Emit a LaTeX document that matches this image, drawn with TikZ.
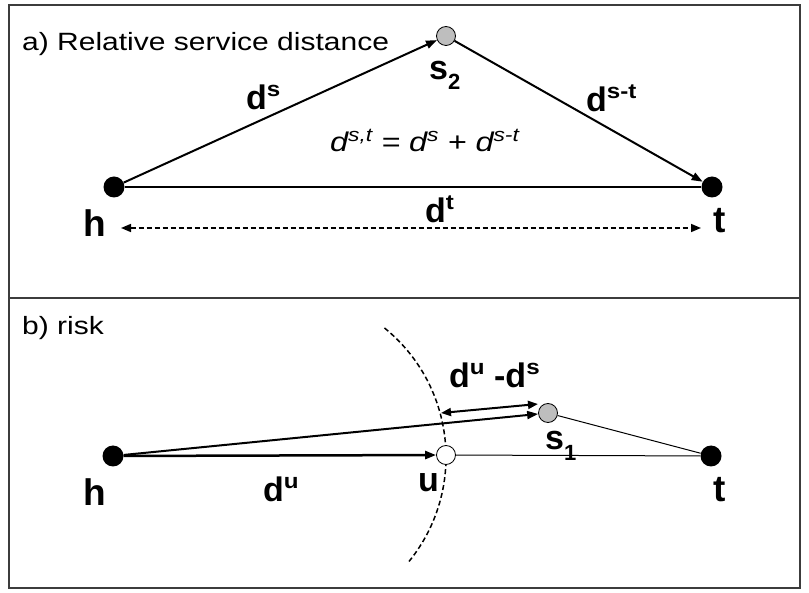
\documentclass[tikz,border=0pt]{standalone}
\usepackage{fontspec}
\usepackage{graphicx}
\setmainfont{Liberation Sans}
\usetikzlibrary{arrows.meta}
\definecolor{sgray}{RGB}{190,190,190}
\definecolor{framec}{RGB}{60,60,60}
\newcommand{\sups}[1]{\raisebox{13pt}{\fontsize{21}{21}\selectfont\scalebox{1.15}[1]{#1}}}
\newcommand{\subs}[1]{\raisebox{-10pt}{\fontsize{22}{22}\selectfont #1}}
\newcommand{\isup}[1]{\raisebox{10pt}{\fontsize{19}{19}\selectfont #1}}
\newcommand{\wide}[1]{\scalebox{1.2}[1]{#1}}
\begin{document}
\begin{tikzpicture}[x=1pt,y=-1pt,
  blackdot/.style={circle,fill=black,inner sep=0pt,minimum size=21pt},
  graydot/.style={circle,draw=black,line width=0.8pt,fill=sgray,inner sep=0pt,minimum size=19pt},
  whitedot/.style={circle,draw=black,line width=0.8pt,fill=white,inner sep=0pt,minimum size=19pt},
  tip/.style={-{Triangle[length=11pt,width=8pt]}},
  lbl/.style={font=\fontsize{34}{38}\selectfont\bfseries,inner sep=0pt,anchor=base west},
  big/.style={font=\fontsize{37}{40}\selectfont\bfseries,inner sep=0pt,anchor=base west},
  ttl/.style={font=\fontsize{25}{30}\selectfont,inner sep=0pt,anchor=base west},
  frm/.style={draw=framec,line width=1.5pt}
]
\useasboundingbox (0,0) rectangle (809,593);
% frame
\draw[frm] (9,5) rectangle (800,588);
\draw[frm] (9,298) -- (800,298);

% ---------- panel a ----------
\node[ttl] (ta) at (22,51) {\wide{a) Relative service distance}};
\node[blackdot] (h1) at (114,187) {};
\node[blackdot] (t1) at (712,187) {};
\node[graydot] (s2) at (446,36) {};
\draw[line width=2pt,tip] (h1) -- (s2);
\draw[line width=2pt,tip] (s2) -- (t1);
\draw[line width=1.5pt] (h1) -- (t1);
\coordinate (dl) at (121,228);
\coordinate (dr) at (701,228);
\draw[line width=1.5pt,dash pattern=on 5pt off 3pt,{Triangle[length=10pt,width=8pt]}-{Triangle[length=10pt,width=8pt]}] (dl) -- (dr);
\node[big] (lh1) at (83,237) {h};
\node[big] (lt1) at (713,233) {t};
\node[lbl] (ls2) at (429,80) {s\subs{2}};
\node[lbl] (lds) at (246,110) {d\sups{s}};
\node[lbl] (ldst) at (586,112) {d\sups{s-t}};
\node[lbl] (ldt) at (425,223) {d\sups{t}};
\node[font=\fontsize{27}{30}\selectfont\itshape,inner sep=0pt,anchor=base west] (form) at (330,152)
  {\wide{d\isup{s,t} = d\isup{s} + d\isup{s-t}}};

% ---------- panel b ----------
\node[ttl] (tb) at (22,335) {\wide{b) risk}};
\coordinate (arcc) at (280,457);
\draw[line width=1.5pt,dash pattern=on 5pt off 3pt] (arcc) ++(-51:166) arc[start angle=-51,end angle=39,radius=166];
\node[blackdot] (h2) at (113,456) {};
\node[blackdot] (t2) at (711,456) {};
\node[whitedot] (u) at (446,455) {};
\node[graydot] (s1) at (548,413) {};
\draw[line width=1pt] (u) -- (t2);
\draw[line width=1pt] (s1) -- (t2);
\draw[line width=2.5pt,tip] (h2) -- (u);
\draw[line width=2pt,tip] (h2) -- (s1);
\coordinate (ae) at (441,413);
\coordinate (se) at (538,404);
\draw[line width=2pt,{Triangle[length=10pt,width=8pt]}-{Triangle[length=10pt,width=8pt]}] (ae) -- (se);
\node[big] (lh2) at (83,505) {h};
\node[big] (lt2) at (713,502) {t};
\node[lbl] (ldu) at (263,501) {d\sups{u}};
\node[lbl] (lu) at (418,492) {u};
\node[lbl] (ls1) at (545,450) {s\subs{1}};
\node[lbl] (lduds) at (449,388) {d\sups{u} -d\sups{s}};
\end{tikzpicture}
\end{document}
